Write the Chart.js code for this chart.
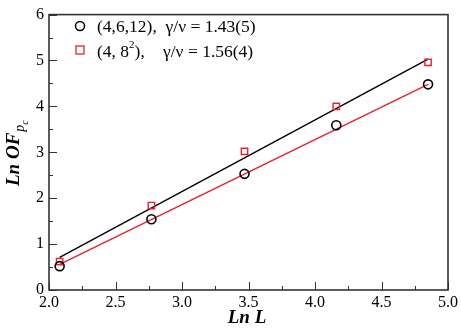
<!DOCTYPE html>
<html><head><meta charset="utf-8">
<script src="https://cdn.jsdelivr.net/npm/chart.js@4/dist/chart.umd.min.js"></script>
<style>html,body{margin:0;padding:0;background:#fff}#wrap{width:461px;height:330px}</style>
</head><body><div id="wrap"><canvas id="c" width="461" height="330"></canvas></div>
<script>
const lnL = [2.08, 2.77, 3.47, 4.16, 4.85];
const lnOF_4612 = [0.52, 1.54, 2.53, 3.59, 4.48];
const lnOF_482 = [0.62, 1.84, 3.02, 4.00, 4.96];
const fitX = [2.08, 4.85];
const fitBlack = [0.71, 5.03];
const fitRed = [0.56, 4.48];
const xTicks = [2.0, 2.5, 3.0, 3.5, 4.0, 4.5, 5.0];
const yTicks = [0, 1, 2, 3, 4, 5, 6];
const legendLabels = ["(4,6,12),  γ/ν = 1.43(5)", "(4, 8", "2", "),", "γ/ν = 1.56(4)"];

const RED = '#e3232c';
const SERIF = '"Liberation Serif", "Times New Roman", serif';
const pts = (xs, ys) => xs.map((x, i) => ({x, y: ys[i]}));

const framePlugin = {
  id: 'frame',
  afterDraw(chart) {
    const ctx = chart.ctx, a = chart.chartArea;
    const xs = chart.scales.x, ys = chart.scales.y;
    ctx.save();
    ctx.strokeStyle = '#333'; ctx.lineWidth = 1.6;
    ctx.strokeRect(a.left, a.top, a.right - a.left, a.bottom - a.top);
    ctx.lineWidth = 1;
    for (let v = 2.0; v <= 5.0001; v += 0.25) {
      const px = Math.round(xs.getPixelForValue(v)) + 0.5;
      const major = Math.abs(v * 2 - Math.round(v * 2)) < 1e-6;
      ctx.beginPath(); ctx.moveTo(px, a.bottom); ctx.lineTo(px, a.bottom - (major ? 8 : 4)); ctx.stroke();
    }
    for (let v = 0; v <= 6.0001; v += 0.5) {
      const py = Math.round(ys.getPixelForValue(v)) + 0.5;
      const major = Math.abs(v - Math.round(v)) < 1e-6;
      ctx.beginPath(); ctx.moveTo(a.left, py); ctx.lineTo(a.left + (major ? 8 : 4), py); ctx.stroke();
    }
    ctx.fillStyle = '#000';
    ctx.font = 'italic bold 19px ' + SERIF;
    ctx.textAlign = 'center'; ctx.textBaseline = 'alphabetic';
    ctx.fillText('Ln L', 247, 323);
    ctx.translate(19, 186);
    ctx.rotate(-Math.PI / 2);
    ctx.textAlign = 'left';
    ctx.font = 'italic bold 19px ' + SERIF;
    ctx.fillText('Ln OF', 0, 0);
    let w = ctx.measureText('Ln OF').width;
    ctx.font = 'italic 14px ' + SERIF;
    ctx.fillText('p', w + 1, 5);
    let w2 = ctx.measureText('p').width;
    ctx.font = 'italic 10px ' + SERIF;
    ctx.fillText('c', w + 1 + w2, 9);
    ctx.restore();
    ctx.save();
    ctx.lineWidth = 1.5;
    ctx.strokeStyle = '#000';
    ctx.beginPath(); ctx.arc(80, 26, 4.5, 0, Math.PI * 2); ctx.stroke();
    ctx.strokeStyle = RED; ctx.lineWidth = 1.3;
    ctx.strokeRect(76, 46, 8, 8);
    ctx.fillStyle = '#000';
    ctx.font = '17.5px ' + SERIF;
    ctx.textBaseline = 'middle'; ctx.textAlign = 'left';
    ctx.fillText(legendLabels[0], 97, 27);
    ctx.fillText(legendLabels[1], 97, 52);
    let x2 = 97 + ctx.measureText(legendLabels[1]).width;
    ctx.font = '11px ' + SERIF;
    ctx.fillText(legendLabels[2], x2, 45);
    x2 += ctx.measureText(legendLabels[2]).width;
    ctx.font = '17.5px ' + SERIF;
    ctx.fillText(legendLabels[3], x2, 52);
    ctx.fillText(legendLabels[4], 163, 52);
    ctx.restore();
  }
};

new Chart(document.getElementById('c'), {
  type: 'scatter',
  data: {
    datasets: [
      { data: pts(fitX, fitBlack), showLine: true, borderColor: '#000', borderWidth: 1.4, pointRadius: 0, order: 3 },
      { data: pts(fitX, fitRed), showLine: true, borderColor: RED, borderWidth: 1.4, pointRadius: 0, order: 3 },
      { data: pts(lnL, lnOF_4612), showLine: false, pointStyle: 'circle', pointRadius: 4.5, borderColor: '#000', backgroundColor: 'rgba(0,0,0,0)', pointBorderWidth: 1.6, order: 1 },
      { data: pts(lnL, lnOF_482), showLine: false, pointStyle: 'rect', pointRadius: 4.5, borderColor: RED, backgroundColor: 'rgba(0,0,0,0)', pointBorderWidth: 1.4, order: 2 }
    ]
  },
  options: {
    responsive: false, animation: false,
    layout: { padding: { top: 11, right: 13, left: 0, bottom: 0 } },
    plugins: { legend: { display: false }, tooltip: { enabled: false } },
    scales: {
      x: {
        type: 'linear', min: 2, max: 5,
        afterFit: s => { s.height = 40; },
        afterBuildTicks: s => { s.ticks = xTicks.map(v => ({value: v})); },
        grid: { display: false, drawTicks: false },
        border: { display: false },
        ticks: { padding: 3, color: '#000', font: { family: SERIF, size: 16 }, callback: v => Number(v).toFixed(1), maxRotation: 0, autoSkip: false }
      },
      y: {
        type: 'linear', min: 0, max: 6,
        afterFit: s => { s.width = 49; },
        afterBuildTicks: s => { s.ticks = yTicks.map(v => ({value: v})); },
        grid: { display: false, drawTicks: false },
        border: { display: false },
        ticks: { padding: 5, color: '#000', font: { family: SERIF, size: 16 }, callback: v => String(v) }
      }
    }
  },
  plugins: [framePlugin]
});
</script>
</body></html>
